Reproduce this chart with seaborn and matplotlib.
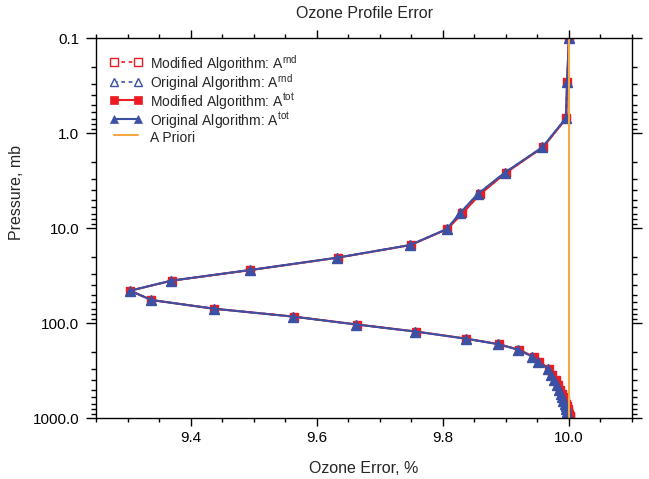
import matplotlib
matplotlib.use("Agg")
import matplotlib.pyplot as plt
import seaborn as sns
import pandas as pd
from matplotlib.ticker import LogLocator, FixedLocator, MultipleLocator, NullFormatter

# ---- data ----
pressure = [0.1, 0.29, 0.695, 1.40, 2.60, 4.38, 6.95, 10.2, 15.0, 20.4,
            27.5, 35.6, 45.4, 56.9, 70.2, 85.1, 103, 122, 145, 166,
            190, 225, 254, 300, 350, 400, 450, 500, 550, 600,
            650, 700, 750, 800, 850, 900, 950, 1000]
orig_tot = [10.0, 9.997, 9.995, 9.958, 9.898, 9.855, 9.827, 9.806, 9.748, 9.632,
            9.494, 9.369, 9.304, 9.338, 9.437, 9.563, 9.663, 9.756, 9.836, 9.888,
            9.920, 9.942, 9.951, 9.966, 9.971, 9.977, 9.981, 9.984, 9.987, 9.989,
            9.991, 9.993, 9.995, 9.996, 9.997, 9.998, 9.999, 9.999]
mod_tot = [10.0, 9.997, 9.996, 9.959, 9.900, 9.859, 9.831, 9.807, 9.749, 9.633,
           9.495, 9.370, 9.304, 9.338, 9.437, 9.564, 9.664, 9.757, 9.837, 9.889,
           9.921, 9.944, 9.953, 9.968, 9.973, 9.979, 9.983, 9.986, 9.989, 9.991,
           9.993, 9.995, 9.997, 9.998, 9.999, 10.000, 10.001, 10.001]
orig_rnd = list(orig_tot)
mod_rnd = list(mod_tot)
apriori_x = [10.0, 10.0]
apriori_p = [0.1, 1000.0]

y_ticks = [0.1, 1.0, 10.0, 100.0, 1000.0]
y_tick_labels = ["0.1", "1.0", "10.0", "100.0", "1000.0"]
x_ticks = [9.4, 9.6, 9.8, 10.0]
x_tick_labels = ["9.4", "9.6", "9.8", "10.0"]

labels = ["Modified Algorithm: A$^{rnd}$", "Original Algorithm: A$^{rnd}$",
          "Modified Algorithm: A$^{tot}$", "Original Algorithm: A$^{tot}$",
          "A Priori"]

RED = "#EC1C24"
BLUE = "#3B51A3"
ORANGE = "#F6A843"

sns.set_style("ticks")
plt.rcParams["font.family"] = ["Liberation Sans", "DejaVu Sans"]
plt.rcParams["mathtext.default"] = "regular"

fig = plt.figure(figsize=(6.49, 4.79), dpi=100)
ax = fig.add_axes([96 / 649, 1 - 418.3 / 479, 536 / 649, 380 / 479])

def df(x, p):
    return pd.DataFrame({"x": x, "p": p})

sns.lineplot(data=df(mod_rnd, pressure), x="x", y="p", sort=False, estimator=None,
             ax=ax, color=RED, linestyle=(0, (2.2, 2.2)), linewidth=1.2, marker="s",
             markersize=6, markerfacecolor="white", markeredgecolor=RED,
             markeredgewidth=1.0, label=labels[0])
sns.lineplot(data=df(orig_rnd, pressure), x="x", y="p", sort=False, estimator=None,
             ax=ax, color=BLUE, linestyle=(0, (2.2, 2.2)), linewidth=1.2, marker="^",
             markersize=6.5, markerfacecolor="white", markeredgecolor=BLUE,
             markeredgewidth=1.0, label=labels[1])
sns.lineplot(data=df(mod_tot, pressure), x="x", y="p", sort=False, estimator=None,
             ax=ax, color=RED, linestyle="-", linewidth=1.5, marker="s",
             markersize=6, markerfacecolor=RED, markeredgecolor=RED,
             markeredgewidth=0.5, label=labels[2])
sns.lineplot(data=df(orig_tot, pressure), x="x", y="p", sort=False, estimator=None,
             ax=ax, color=BLUE, linestyle="-", linewidth=1.5, marker="^",
             markersize=6.5, markerfacecolor=BLUE, markeredgecolor=BLUE,
             markeredgewidth=0.5, label=labels[3])
sns.lineplot(data=df(apriori_x, apriori_p), x="x", y="p", sort=False, estimator=None,
             ax=ax, color=ORANGE, linewidth=1.5, label=labels[4])

ax.set_yscale("log")
ax.set_ylim(1000, 0.1)
ax.set_xlim(9.25, 10.10)

ax.yaxis.set_major_locator(FixedLocator(y_ticks))
ax.set_yticklabels(y_tick_labels)
ax.yaxis.set_minor_locator(LogLocator(base=10, subs=[2, 3, 4, 5, 6, 7, 8, 9]))
ax.yaxis.set_minor_formatter(NullFormatter())
ax.xaxis.set_major_locator(FixedLocator(x_ticks))
ax.set_xticklabels(x_tick_labels)
ax.xaxis.set_minor_locator(MultipleLocator(0.05))

for s in ax.spines.values():
    s.set_visible(True)
    s.set_linewidth(1.0)
    s.set_color("black")

ax.tick_params(axis="both", which="both", direction="out", top=True, right=True,
               colors="black", labelsize=11, width=1.0)
ax.tick_params(axis="y", which="major", length=7, pad=5)
ax.tick_params(axis="y", which="minor", length=3.5)
ax.tick_params(axis="x", which="major", length=6, pad=3.5)
ax.tick_params(axis="x", which="minor", length=3)

ax.set_xlabel("Ozone Error, %", fontsize=11.5)
ax.set_ylabel("Pressure, mb", fontsize=11.5)
ax.xaxis.set_label_coords(0.5, -0.112)
ax.yaxis.set_label_coords(-0.134, 0.593)

fig.text((96 + 632) / 2 / 649, 1 - 13 / 479, "Ozone Profile Error",
         ha="center", va="center", fontsize=11.5)

leg = ax.legend(loc="upper left", bbox_to_anchor=(0.0, 0.998), frameon=False,
                fontsize=10, numpoints=2, handlelength=2.3, handletextpad=0.6,
                handleheight=1.3, labelspacing=-0.12, borderaxespad=0.6,
                markerscale=0.85)

fig.savefig("out.png", dpi=100)
